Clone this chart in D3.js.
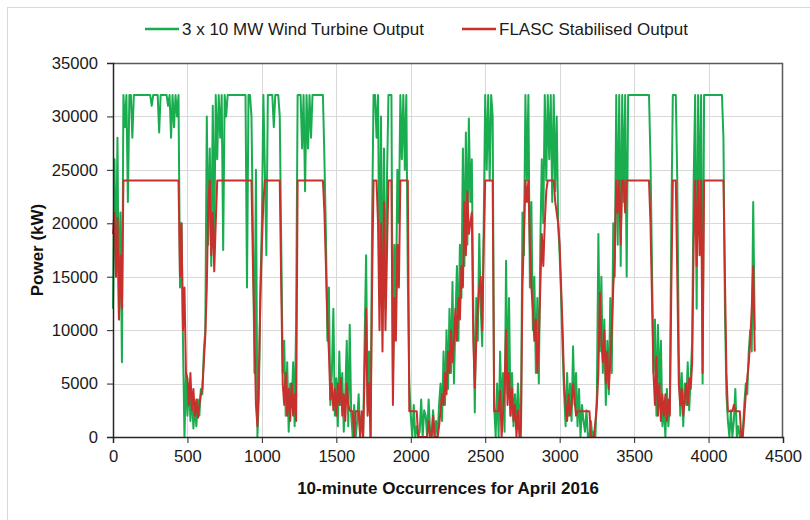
<!DOCTYPE html>
<html>
<head>
<meta charset="utf-8">
<script src="https://cdn.jsdelivr.net/npm/d3@7"></script>
<style>
  body { margin: 0; background: #fff; }
  svg { font-family: "Liberation Sans", Arial, sans-serif; }
  .grid line { stroke: #d9d9d9; stroke-width: 1; }
  .axis text { font-size: 16.6px; fill: #1a1a1a; }
  .axis path, .axis line { stroke: #262626; }
  .title { font-size: 17px; font-weight: bold; fill: #111; }
  .legend text { font-size: 17px; fill: #1a1a1a; }
</style>
</head>
<body>
<div id="chart"></div>
<script>
var sampleStep = 10;

var turbineOutput = [
  12000, 26000, 15000, 28000, 11000, 21000, 7000, 32000, 29000, 32000,
  22000, 32000, 32000, 28000, 32000, 32000, 32000, 32000, 32000, 32000,
  32000, 32000, 32000, 32000, 32000, 32000, 31000, 32000, 32000, 32000,
  32000, 28500, 32000, 32000, 32000, 32000, 32000, 31000, 32000, 28000,
  32000, 29000, 32000, 30000, 32000, 14000, 20000, 9000, 0, 6000,
  2000, 5000, 1500, 4000, 800, 3000, 1000, 3500, 2000, 4500,
  4000, 8000, 10000, 30000, 18000, 27000, 16000, 31000, 18000, 32000,
  26000, 32000, 28000, 32000, 17500, 32000, 30000, 32000, 32000, 32000,
  32000, 32000, 32000, 32000, 32000, 32000, 32000, 32000, 32000, 32000,
  14000, 32000, 32000, 30000, 19000, 6000, 25000, 0, 4000, 14000,
  20000, 32000, 25000, 17000, 32000, 32000, 32000, 32000, 29000, 32000,
  32000, 32000, 30000, 18000, 6000, 9000, 2000, 7000, 500, 5000,
  3000, 7000, 1000, 11000, 32000, 32000, 32000, 27000, 32000, 23000,
  32000, 27000, 32000, 28000, 32000, 32000, 32000, 32000, 32000, 32000,
  32000, 32000, 26000, 19000, 9000, 14000, 3000, 6000, 12000, 2000,
  5500, 1000, 8000, 3000, 6000, 500, 4000, 9000, 1000, 10500,
  2000, 0, 3000, 0, 1500, 4000, 0, 2000, 0, 9000,
  17000, 3000, 8000, 0, 20000, 32000, 32000, 28000, 32000, 14000,
  30000, 10000, 27000, 12000, 24000, 32000, 32000, 32000, 5000, 18000,
  12000, 25000, 20000, 32000, 26000, 32000, 25000, 32000, 15000, 5000,
  2000, 0, 3000, 0, 1000, 0, 500, 3500, 0, 2500,
  2000, 0, 3500, 500, 0, 2500, 0, 1500, 0, 3000,
  5000, 1500, 8000, 3000, 10000, 4500, 12000, 6000, 14500, 5000,
  11000, 16000, 9000, 18000, 13000, 27000, 16000, 28500, 18000, 29800,
  22000, 26000, 12000, 2300, 13000, 9000, 19000, 12000, 8500, 20000,
  32000, 25000, 32000, 24000, 32000, 30000, 3000, 0, 5000, 0,
  8000, 2000, 6000, 500, 16500, 4000, 13000, 2000, 6000, 1000,
  4000, 1000, 5000, 2000, 0, 21000, 17000, 32000, 24000, 32000,
  14000, 22000, 10000, 15000, 6000, 13000, 5000, 18000, 26000, 20000,
  32000, 24000, 32000, 26000, 32000, 22000, 32000, 23000, 30000, 20000,
  17000, 13000, 8000, 4000, 1000, 6000, 2000, 5000, 1500, 8500,
  3000, 6000, 1000, 4500, 0, 3000, 1500, 500, 2500, 0,
  0, 1500, 0, 500, 0, 4000, 19000, 8000, 15000, 6000,
  11000, 3000, 9000, 4000, 13000, 6000, 20000, 15000, 32000, 18000,
  32000, 16000, 32000, 22000, 32000, 15000, 32000, 32000, 32000, 32000,
  32000, 32000, 32000, 32000, 32000, 32000, 32000, 32000, 32000, 32000,
  32000, 26000, 16000, 6000, 11000, 2000, 10500, 4000, 9000, 1000,
  3000, 0, 4500, 1000, 3000, 20000, 32000, 32000, 32000, 24000,
  8000, 2000, 6000, 1000, 5000, 3000, 7000, 2500, 5500, 9000,
  24000, 32000, 12000, 32000, 20000, 32000, 5000, 32000, 32000, 32000,
  32000, 32000, 32000, 32000, 32000, 32000, 32000, 32000, 32000, 32000,
  28000, 12000, 4000, 1500, 0, 2500, 0, 1500, 4500, 0,
  1000, 0, 0, 500, 3000, 5000, 4000, 8000, 10000, 8000,
  22000, 10000
];

var stabilisedOutput = [
  19000, 21000, 15000, 20500, 11000, 17000, 12000, 24000, 24000, 24000,
  24000, 24000, 24000, 24000, 24000, 24000, 24000, 24000, 24000, 24000,
  24000, 24000, 24000, 24000, 24000, 24000, 24000, 24000, 24000, 24000,
  24000, 24000, 24000, 24000, 24000, 24000, 24000, 24000, 24000, 24000,
  24000, 24000, 24000, 24000, 24000, 15000, 20000, 10000, 14000, 6000,
  5500, 3000, 6000, 2500, 4500, 2000, 3500, 1800, 3000, 4000,
  4500, 7000, 9500, 14000, 22000, 24000, 17000, 21000, 15500, 20000,
  24000, 24000, 24000, 24000, 24000, 24000, 24000, 24000, 24000, 24000,
  24000, 24000, 24000, 24000, 24000, 24000, 24000, 24000, 24000, 24000,
  24000, 24000, 24000, 24000, 16000, 10000, 3000, 1000, 6000, 13000,
  18000, 22000, 24000, 24000, 24000, 24000, 24000, 24000, 24000, 24000,
  24000, 24000, 24000, 14000, 5000, 3000, 6000, 2000, 4500, 1500,
  5000, 2000, 4000, 1500, 24000, 24000, 24000, 24000, 24000, 24000,
  24000, 24000, 24000, 24000, 24000, 24000, 24000, 24000, 24000, 24000,
  24000, 24000, 21000, 16000, 11000, 8000, 3500, 5000, 2500, 4500,
  2000, 5000, 3000, 5500, 2000, 4000, 1500, 5000, 3000, 2500,
  2400, 2400, 0, 2400, 2400, 2400, 0, 2400, 0, 6000,
  12000, 2000, 5000, 0, 14000, 24000, 24000, 24000, 20000, 10000,
  20000, 8000, 22000, 10000, 17000, 24000, 24000, 24000, 3000, 13000,
  9000, 18000, 14000, 24000, 24000, 24000, 24000, 24000, 24000, 2400,
  2400, 2400, 2400, 2400, 2400, 0, 0, 0, 0, 0,
  0, 0, 1500, 0, 0, 2000, 0, 0, 0, 1000,
  2500, 4000, 3000, 6000, 4000, 8000, 6000, 10000, 7000, 9000,
  12000, 9000, 13000, 11000, 16000, 14000, 22000, 17000, 23000, 19000,
  20000, 21000, 9000, 4600, 9000, 12000, 14000, 15000, 10000, 18000,
  24000, 24000, 24000, 24000, 24000, 24000, 2400, 2400, 2400, 2400,
  4300, 0, 2400, 4500, 10000, 3000, 6000, 2000, 4500, 1500,
  3000, 0, 2500, 0, 1000, 14000, 19000, 24000, 22000, 24000,
  18000, 14000, 12000, 9000, 11000, 6000, 9000, 14000, 19000, 16000,
  20000, 23000, 24000, 24000, 24000, 24000, 24000, 22000, 21000, 20000,
  18000, 14000, 10000, 5000, 3000, 1500, 4000, 2000, 3000, 5000,
  3500, 2000, 2400, 2400, 2400, 2400, 2400, 2400, 2400, 2400,
  2400, 0, 0, 0, 1500, 3000, 6000, 13500, 9000, 7000,
  10000, 5000, 8000, 4500, 7000, 10000, 14000, 17000, 24000, 21000,
  24000, 18000, 24000, 24000, 21000, 24000, 24000, 24000, 24000, 24000,
  24000, 24000, 24000, 24000, 24000, 24000, 24000, 24000, 24000, 24000,
  24000, 20000, 13000, 6000, 3000, 7500, 2000, 5000, 1500, 4000,
  2000, 4000, 1500, 3500, 2000, 14000, 24000, 24000, 24000, 15000,
  5000, 3000, 4500, 2000, 3500, 5000, 3000, 5500, 4500, 7000,
  18000, 24000, 16000, 24000, 17000, 24000, 6000, 24000, 24000, 24000,
  24000, 24000, 24000, 24000, 24000, 24000, 24000, 24000, 24000, 24000,
  24000, 15000, 6000, 2400, 2400, 2400, 2400, 3000, 2400, 2400,
  2400, 2400, 0, 0, 2000, 4000, 5500, 7000, 9000, 12000,
  16000, 8000
];

var seriesNames = ["3 x 10 MW Wind Turbine Output", "FLASC Stabilised Output"];
var seriesColors = ["#1aad50", "#c8302c"];
var xTicks = [0, 500, 1000, 1500, 2000, 2500, 3000, 3500, 4000, 4500];
var yTicks = [0, 5000, 10000, 15000, 20000, 25000, 30000, 35000];

// set the dimensions and margins of the graph
var W = 810, H = 520;
var margin = {top: 63, right: 27, bottom: 83, left: 113},
    width = W - margin.left - margin.right,
    height = H - margin.top - margin.bottom;

var svg = d3.select("#chart").append("svg")
    .attr("width", W)
    .attr("height", H);

// outer chart border
svg.append("rect")
    .attr("x", 7.5).attr("y", 7.5)
    .attr("width", W + 20).attr("height", H + 20)
    .attr("fill", "none")
    .attr("stroke", "#d9d9d9");

var g = svg.append("g")
    .attr("transform", "translate(" + margin.left + "," + margin.top + ")");

var xScale = d3.scaleLinear().domain([0, 4500]).range([0, width]);
var yScale = d3.scaleLinear().domain([0, 35000]).range([height, 0]);

// gridlines
g.append("g").attr("class", "grid")
  .selectAll("line").data(yTicks.slice(1, -1)).enter().append("line")
    .attr("x1", 0).attr("x2", width)
    .attr("y1", function(d) { return Math.round(yScale(d)) + 0.5; })
    .attr("y2", function(d) { return Math.round(yScale(d)) + 0.5; });
g.append("g").attr("class", "grid")
  .selectAll("line").data(xTicks.slice(1, -1)).enter().append("line")
    .attr("y1", 0).attr("y2", height)
    .attr("x1", function(d) { return Math.round(xScale(d)) + 0.5; })
    .attr("x2", function(d) { return Math.round(xScale(d)) + 0.5; });

// top and right frame
g.append("path")
    .attr("d", "M0,0.5H" + (width - 0.5) + "V" + height)
    .attr("fill", "none")
    .attr("stroke", "#595959")
    .attr("stroke-width", 1.5);

// define the lines
var line = d3.line()
    .x(function(d, i) { return xScale(i * sampleStep); })
    .y(function(d) { return yScale(d); });

[turbineOutput, stabilisedOutput].forEach(function(s, k) {
  g.append("path")
      .datum(s)
      .attr("fill", "none")
      .attr("stroke", seriesColors[k])
      .attr("stroke-width", 2)
      .attr("stroke-linejoin", "round")
      .attr("d", line);
});

// axes
g.append("g")
    .attr("class", "axis")
    .attr("transform", "translate(0," + height + ")")
    .call(d3.axisBottom(xScale).tickValues(xTicks).tickSize(6).tickPadding(7).tickFormat(d3.format("d")))
    .call(function(a) { a.select(".domain").attr("stroke-width", 1.5); });

g.append("g")
    .attr("class", "axis")
    .call(d3.axisLeft(yScale).tickValues(yTicks).tickSize(6).tickPadding(9).tickFormat(d3.format("d")))
    .call(function(a) { a.select(".domain").attr("stroke-width", 1.5); });

// axis titles
svg.append("text")
    .attr("class", "title")
    .attr("x", margin.left + width / 2)
    .attr("y", 494)
    .attr("text-anchor", "middle")
    .text("10-minute Occurrences for April 2016");

svg.append("text")
    .attr("class", "title")
    .attr("transform", "translate(43," + (margin.top + height / 2) + ") rotate(-90)")
    .attr("text-anchor", "middle")
    .text("Power (kW)");

// legend
var legendX = [145, 462];
var legend = svg.append("g").attr("class", "legend");
seriesNames.forEach(function(name, k) {
  legend.append("line")
      .attr("x1", legendX[k]).attr("x2", legendX[k] + 34)
      .attr("y1", 29).attr("y2", 29)
      .attr("stroke", seriesColors[k])
      .attr("stroke-width", 2.5);
  legend.append("text")
      .attr("x", legendX[k] + 37)
      .attr("y", 35)
      .text(name);
});
</script>
</body>
</html>
